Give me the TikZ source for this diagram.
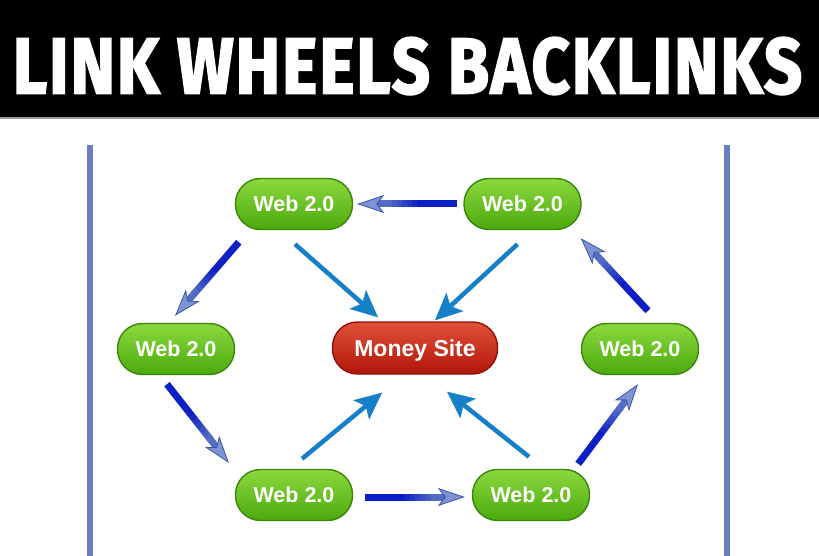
\documentclass[tikz,border=0pt]{standalone}
\usepackage{fontspec}
\usetikzlibrary{arrows.meta,calc}
\newfontfamily\labelfont{Liberation Sans}
\newfontfamily\titlefont{Fira Sans}[BoldFeatures={FakeBold=2.5}, LetterSpace=3]
\definecolor{webtop}{HTML}{8AD83E}
\definecolor{webmid}{HTML}{62C41A}
\definecolor{webbot}{HTML}{4CAA0C}
\definecolor{webedge}{HTML}{3A860A}
\definecolor{redtop}{HTML}{E05038}
\definecolor{redmid}{HTML}{C82210}
\definecolor{redbot}{HTML}{B2160A}
\definecolor{rededge}{HTML}{8E1208}
\definecolor{shaftdark}{HTML}{0B1FC4}
\definecolor{shaftlight}{HTML}{5B74C4}
\definecolor{headfill}{HTML}{7E93D2}
\definecolor{headedge}{HTML}{3D54A8}
\definecolor{lightblue}{HTML}{1580C8}
\definecolor{sideblue}{HTML}{6A7FC0}
\definecolor{bannerline}{HTML}{9A9A9A}
\tikzset{
  webnode/.style={rounded corners=25pt, minimum width=117pt, minimum height=51pt,
    draw=webedge, line width=1.4pt, top color=webtop, middle color=webmid,
    bottom color=webbot, text=white, inner sep=0pt,
    font=\labelfont\bfseries\fontsize{21.5}{24}\selectfont},
  moneynode/.style={webnode, minimum width=165pt, minimum height=52pt,
    draw=rededge, top color=redtop, middle color=redmid, bottom color=redbot,
    text depth=0pt, font=\labelfont\bfseries\fontsize{23}{26}\selectfont},
  lightarrow/.style={line width=4.5pt, color=lightblue,
    -{Stealth[length=27pt,width=25pt,inset=6pt,line width=0.4pt]}},
  darkhead/.style={line width=7pt, color=shaftlight!90!shaftdark,
    -{Stealth[length=27pt,width=18pt,inset=7pt,line width=0.8pt,color=headedge,fill=headfill]}},
  sideline/.style={line width=6pt, color=sideblue},
}
\newcommand\darkarrow[2]{%
  \foreach \k in {0,...,13}{%
    \pgfmathsetmacro\dfa{\k*0.05}%
    \pgfmathsetmacro\dfb{\k*0.05+0.052}%
    \pgfmathsetmacro\dmix{max(0,min(100,(\k*0.05-0.35)/0.35*100))}%
    \draw[line width=7pt, color=shaftlight!\dmix!shaftdark] ($(#1)!\dfa!(#2)$) -- ($(#1)!\dfb!(#2)$);
  }%
  \draw[darkhead] ($(#1)!0.68!(#2)$) -- (#2);
}
\begin{document}
\begin{tikzpicture}[x=1pt,y=-1pt]
\useasboundingbox (0,0) rectangle (819,556);
\fill[white] (0,0) rectangle (819,556);
\fill[black] (0,0) rectangle (819,117);
\draw[bannerline, line width=1.5pt] (0,118) -- (819,118);
\node[inner sep=0pt, text=white] (title) at (407.5,66)
  {\resizebox{789pt}{56pt}{\titlefont\bfseries LINK WHEELS BACKLINKS}};
\draw[sideline] (90,145) -- (90,556);
\draw[sideline] (726.5,145) -- (726.5,556);

\node[webnode] (tl) at (294,204) {Web 2.0};
\node[webnode] (tr) at (522.5,204) {Web 2.0};
\node[webnode] (ml) at (176,349) {Web 2.0};
\node[webnode] (mr) at (640,349) {Web 2.0};
\node[webnode] (bl) at (294,495) {Web 2.0};
\node[webnode] (br) at (531,495) {Web 2.0};
\node[moneynode] (ms) at (415,348) {Money Site};

% wheel arrows
\coordinate (d1s) at ($(tr.west)+(-6,0)$);
\coordinate (d1e) at ($(tl.east)+(4,0)$);
\coordinate (d2s) at ($(tl.south west)+(4,12)$);
\coordinate (d2e) at ($(ml.north)+(-1,-7)$);
\coordinate (d3s) at ($(ml.south)+(-9,9)$);
\coordinate (d3e) at ($(bl.north west)+(-6,-6)$);
\coordinate (d4s) at ($(bl.east)+(12,2)$);
\coordinate (d4e) at ($(br.west)+(-7,2)$);
\coordinate (d5s) at ($(br.north east)+(-12,-5)$);
\coordinate (d5e) at ($(mr.south)+(-2,9)$);
\coordinate (d6s) at ($(mr.north)+(8,-12)$);
\coordinate (d6e) at ($(tr.south east)+(-1,8)$);
\darkarrow{d1s}{d1e}
\darkarrow{d2s}{d2e}
\darkarrow{d3s}{d3e}
\darkarrow{d4s}{d4e}
\darkarrow{d5s}{d5e}
\darkarrow{d6s}{d6e}

% arrows to money site
\draw[lightarrow] ($(tl.south)+(1,14)$) -- ($(ms.north)+(-37,-4)$);
\draw[lightarrow] ($(tr.south)+(-5,14)$) -- ($(ms.north)+(20,-1)$);
\draw[lightarrow] ($(bl.north)+(8,-10)$) -- ($(ms.south)+(-33,18)$);
\draw[lightarrow] ($(br.north)+(-2,-12)$) -- ($(ms.south)+(32,17)$);
\end{tikzpicture}
\end{document}
